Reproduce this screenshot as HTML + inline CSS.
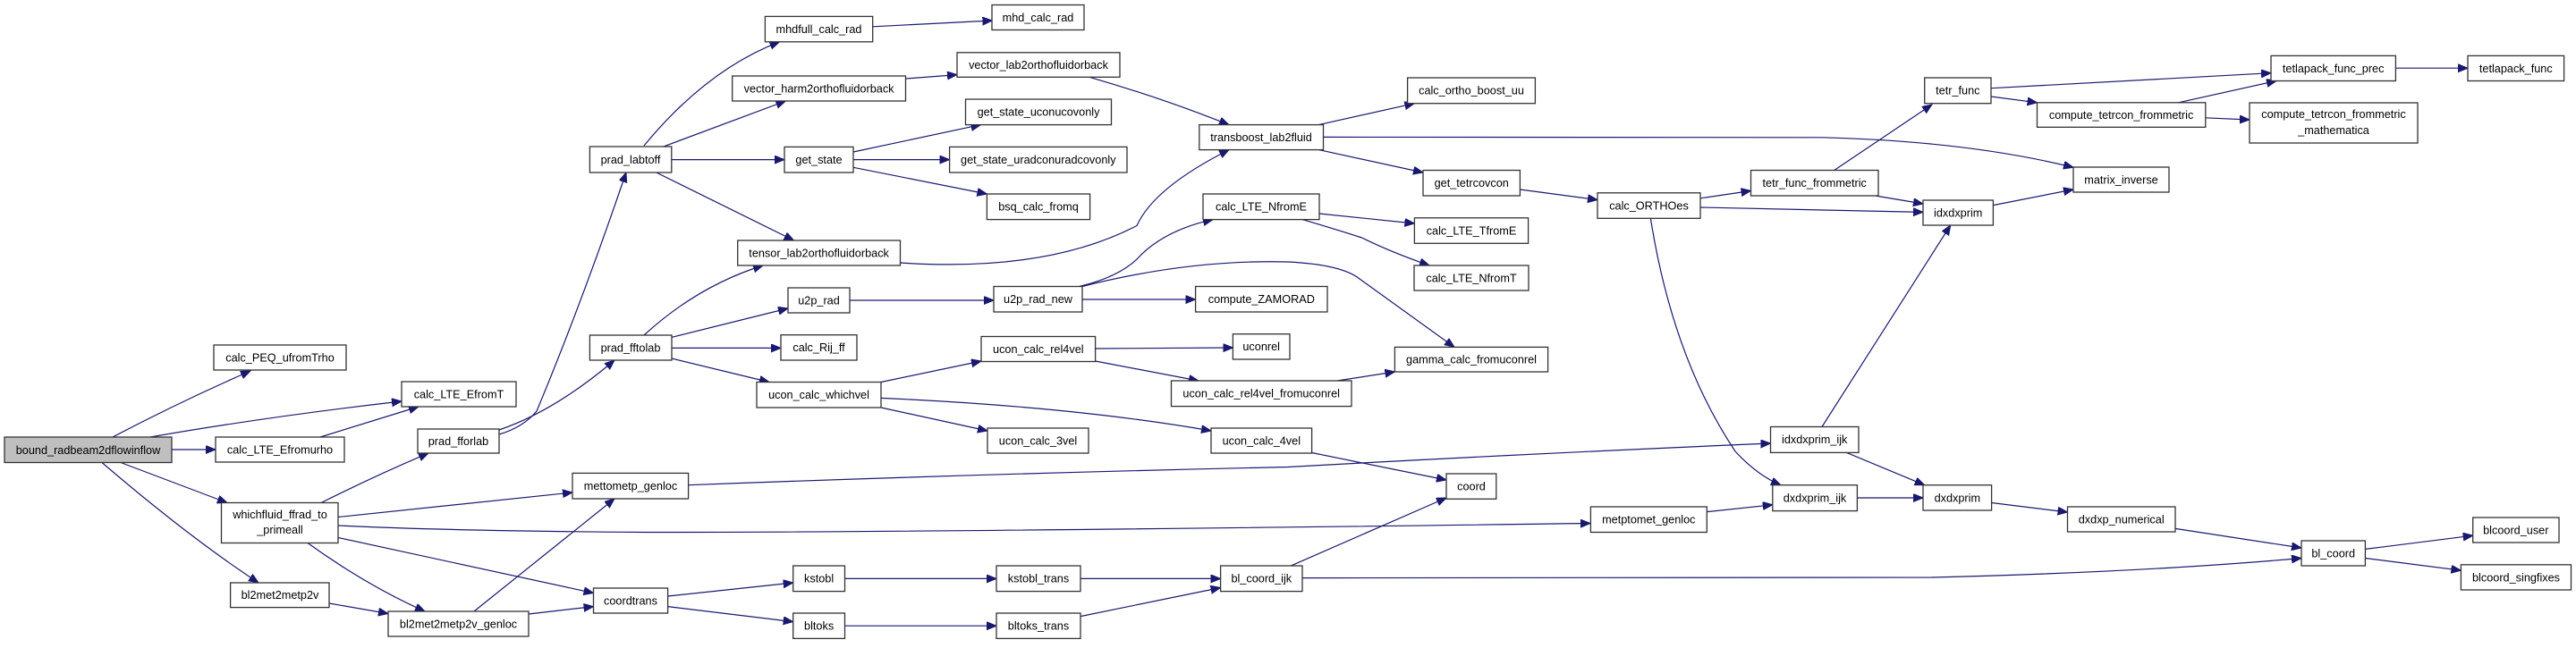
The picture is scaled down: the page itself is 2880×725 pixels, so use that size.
<!DOCTYPE html>
<html><head><meta charset="utf-8"><style>
html,body{margin:0;padding:0;background:#fff;}
svg{display:block;}
text{font-family:"Liberation Sans",Arial,sans-serif;font-size:12.7px;fill:#000;text-anchor:middle;}
rect{fill:#fff;stroke:#333;stroke-width:1.3;}
path{fill:none;stroke:#191970;stroke-width:1.2;}
</style></head><body>
<svg width="2880" height="725" viewBox="0 0 2880 725" xmlns="http://www.w3.org/2000/svg">
<defs>
<marker id="a" markerUnits="userSpaceOnUse" markerWidth="12" markerHeight="10" refX="11" refY="4.5" orient="auto">
<path d="M0,0 L11,4.5 L0,9 Z" style="fill:#191970;stroke:#191970;stroke-width:1"/>
</marker>
</defs>
<g marker-end="url(#a)">
<path d="M126,489 Q200,450 280,415"/>
<path d="M168,489 Q300,466 449,449"/>
<path d="M192,503 L241,503"/>
<path d="M135,517.5 L254,562.5"/>
<path d="M114,517.5 Q210,600 289,652"/>
<path d="M358,489 L468,455"/>
<path d="M359,562.5 Q420,532 479,507"/>
<path d="M378,578.5 L640,551"/>
<path d="M378,588 Q500,594 720,595.5 Q1000,596 1778,585.5"/>
<path d="M378,601.5 L663.5,663.5"/>
<path d="M344,607.5 Q410,655 475,684"/>
<path d="M368,675 L434,686.5"/>
<path d="M530,684 L687,558"/>
<path d="M591,687 L663.5,678.6"/>
<path d="M558,486 Q585,478 600,460 Q650,340 700,193"/>
<path d="M558,481 Q620,460 687,403"/>
<path d="M769.6,542.7 Q1100,530 1440,522.5 Q1700,508 1979.5,496"/>
<path d="M720,163 Q790,78 871.5,46.8"/>
<path d="M740.7,164.4 L878.4,113"/>
<path d="M751,178.6 L877,178.6"/>
<path d="M733.8,193 L887.6,269"/>
<path d="M975.7,29.8 L1109.4,23"/>
<path d="M1012.5,88 L1070,83.6"/>
<path d="M1218,86.3 Q1300,110 1374,139.6"/>
<path d="M954,170 L1096.5,139.6"/>
<path d="M954,178.6 L1061.6,178.6"/>
<path d="M954,187.3 L1103.4,217"/>
<path d="M1006.5,294 Q1170,305 1271,252.5 Q1290,210 1374,167.6"/>
<path d="M720,375 Q780,320 853,297"/>
<path d="M750.8,377.4 L881,345"/>
<path d="M751,389.4 L873,389.4"/>
<path d="M750.8,401 L860,427.5"/>
<path d="M950,336 L1111,336"/>
<path d="M1206.7,320.5 Q1250,310 1271,290 Q1300,258 1356,245.6"/>
<path d="M1210,320.5 Q1330,290 1440,293 Q1500,296 1520,312 L1626,388.4"/>
<path d="M1210,335 L1336.6,335"/>
<path d="M985,427.5 L1097,404"/>
<path d="M985,456 L1104,482"/>
<path d="M985,445.4 Q1200,455 1354,482"/>
<path d="M1224.6,390 L1378.4,389"/>
<path d="M1224.6,404 L1340,426"/>
<path d="M1495,426 L1559.4,416"/>
<path d="M1466.6,506.5 L1617,537"/>
<path d="M1475,239 L1581.4,250"/>
<path d="M1456,245.6 Q1495,257 1522.6,266 Q1555,282 1598,297"/>
<path d="M746.6,667 L886.7,652"/>
<path d="M746.6,678.6 L886.7,695.6"/>
<path d="M944.5,647.4 L1114,647.4"/>
<path d="M944.5,700.2 L1114,700.2"/>
<path d="M1208,647.4 L1364.6,647.4"/>
<path d="M1208,689.6 L1364.6,657.5"/>
<path d="M1442,633.6 L1617,557"/>
<path d="M1456,646.6 Q1800,647 2160,646 Q2400,640 2573,624.5"/>
<path d="M1474.4,139.6 L1581.4,115.7"/>
<path d="M1479.5,153.4 L2037,153.8 Q2200,158 2318,187.3"/>
<path d="M1474.4,167.6 L1591,193"/>
<path d="M1699.4,212 L1786,223.6"/>
<path d="M1901,221.8 L1957.5,213.5"/>
<path d="M1901,232 L2150,237.4"/>
<path d="M1845.4,244.3 Q1870,400 1940,505 Q1965,532 1991,542.7"/>
<path d="M2050.7,190.5 L2160,117"/>
<path d="M2096.6,219 L2150,228"/>
<path d="M2037,477.5 L2180.7,252"/>
<path d="M2064.5,506.4 L2151.7,542.7"/>
<path d="M2076.4,557 L2150,557"/>
<path d="M1908.3,572.6 L1981.8,564.8"/>
<path d="M2226,98.7 L2539,81.7"/>
<path d="M2226,108 L2277.5,114.8"/>
<path d="M2435.5,114.8 L2545,90.5"/>
<path d="M2465.8,131.8 L2515,134"/>
<path d="M2678.4,76.2 L2759,76.2"/>
<path d="M2228.4,229.6 L2318,212"/>
<path d="M2226.6,562.5 L2311.5,573"/>
<path d="M2432,591.4 L2573,613"/>
<path d="M2644.4,614.4 L2764.7,599.2"/>
<path d="M2644.4,624.5 L2751.4,638.2"/>
</g>
<g>
<rect x="5" y="489" width="187" height="28.5" style="fill:#bfbfbf"/><text x="98.5" y="508">bound_radbeam2dflowinflow</text>
<rect x="239" y="386" width="148" height="28"/><text x="313" y="404.5">calc_PEQ_ufromTrho</text>
<rect x="449" y="427" width="128" height="28"/><text x="513" y="445.5">calc_LTE_EfromT</text>
<rect x="241" y="489" width="144" height="28"/><text x="313" y="507.5">calc_LTE_Efromurho</text>
<rect x="247.5" y="562.5" width="130.5" height="45"/><text x="313" y="580">whichfluid_ffrad_to</text><text x="313" y="597">_primeall</text>
<rect x="257.6" y="652" width="110.4" height="27.6"/><text x="313" y="670">bl2met2metp2v</text>
<rect x="434" y="684" width="157" height="28"/><text x="512.5" y="702.5">bl2met2metp2v_genloc</text>
<rect x="467" y="480" width="91" height="27"/><text x="512.5" y="498">prad_fforlab</text>
<rect x="659.4" y="164" width="91.4" height="29"/><text x="705" y="183">prad_labtoff</text>
<rect x="659.4" y="375" width="91.6" height="28"/><text x="705" y="393.5">prad_fftolab</text>
<rect x="640" y="529.4" width="129.6" height="28.6"/><text x="705" y="548">mettometp_genloc</text>
<rect x="663.5" y="658" width="83.1" height="28"/><text x="705" y="676.5">coordtrans</text>
<rect x="855.4" y="18.4" width="120.3" height="28.4"/><text x="915.5" y="37">mhdfull_calc_rad</text>
<rect x="1109" y="5.5" width="103" height="28"/><text x="1160.5" y="24">mhd_calc_rad</text>
<rect x="818.7" y="85" width="193.8" height="28"/><text x="915.6" y="103.5">vector_harm2orthofluidorback</text>
<rect x="1070" y="58.8" width="182" height="27.5"/><text x="1161" y="77">vector_lab2orthofluidorback</text>
<rect x="877" y="164.4" width="77" height="28.6"/><text x="915.5" y="183">get_state</text>
<rect x="1079.5" y="111" width="163" height="28.6"/><text x="1161" y="129.5">get_state_uconucovonly</text>
<rect x="1061.6" y="164.4" width="198.4" height="28.6"/><text x="1160.8" y="183">get_state_uradconuradcovonly</text>
<rect x="1103.4" y="217" width="115.2" height="28.6"/><text x="1161" y="235.5">bsq_calc_fromq</text>
<rect x="824.7" y="269" width="181.8" height="28"/><text x="915.6" y="287.5">tensor_lab2orthofluidorback</text>
<rect x="881" y="322" width="69" height="28"/><text x="915.5" y="340.5">u2p_rad</text>
<rect x="1111" y="320.5" width="99" height="28.5"/><text x="1160.5" y="339">u2p_rad_new</text>
<rect x="873" y="374.7" width="85" height="28.3"/><text x="915.5" y="393">calc_Rij_ff</text>
<rect x="846" y="427.5" width="139" height="28.5"/><text x="915.5" y="446">ucon_calc_whichvel</text>
<rect x="1097" y="376.5" width="127.6" height="28"/><text x="1160.8" y="395">ucon_calc_rel4vel</text>
<rect x="1104" y="479" width="113" height="28"/><text x="1160.5" y="497.5">ucon_calc_3vel</text>
<rect x="886.7" y="633" width="57.8" height="28.6"/><text x="915.6" y="651.5">kstobl</text>
<rect x="886.7" y="686" width="57.8" height="28.4"/><text x="915.6" y="704.5">bltoks</text>
<rect x="1114" y="633" width="94" height="28.6"/><text x="1161" y="651.5">kstobl_trans</text>
<rect x="1114" y="686" width="94" height="28.4"/><text x="1161" y="704.5">bltoks_trans</text>
<rect x="1340.8" y="139.6" width="138.7" height="28"/><text x="1410" y="158">transboost_lab2fluid</text>
<rect x="1345" y="217" width="130" height="28.6"/><text x="1410" y="235.5">calc_LTE_NfromE</text>
<rect x="1336.6" y="320.5" width="147.4" height="28.5"/><text x="1410.3" y="339">compute_ZAMORAD</text>
<rect x="1378.4" y="373.7" width="63.6" height="28.3"/><text x="1410.2" y="392">uconrel</text>
<rect x="1309.5" y="426" width="201.5" height="28.6"/><text x="1410.2" y="444.5">ucon_calc_rel4vel_fromuconrel</text>
<rect x="1354" y="479" width="112.6" height="28"/><text x="1410.3" y="497.5">ucon_calc_4vel</text>
<rect x="1364.6" y="633" width="91.4" height="28.6"/><text x="1410.3" y="651.5">bl_coord_ijk</text>
<rect x="1573.6" y="87" width="142.8" height="28.7"/><text x="1645" y="105.5">calc_ortho_boost_uu</text>
<rect x="1591" y="190.5" width="108.4" height="28.5"/><text x="1645.2" y="209">get_tetrcovcon</text>
<rect x="1581.4" y="243.8" width="127.2" height="28.5"/><text x="1645" y="262.3">calc_LTE_TfromE</text>
<rect x="1581" y="297" width="128" height="28"/><text x="1645" y="315.5">calc_LTE_NfromT</text>
<rect x="1559.4" y="388.4" width="171.2" height="27.6"/><text x="1645" y="406.5">gamma_calc_fromuconrel</text>
<rect x="1617" y="530" width="55.8" height="28.3"/><text x="1645" y="548.5">coord</text>
<rect x="1778.4" y="567" width="129.9" height="28.5"/><text x="1843.3" y="585.5">metptomet_genloc</text>
<rect x="1786" y="215.8" width="115" height="28.5"/><text x="1843.5" y="234.3">calc_ORTHOes</text>
<rect x="1957.5" y="190.5" width="142.5" height="28.5"/><text x="2028.7" y="209">tetr_func_frommetric</text>
<rect x="1979.5" y="477.5" width="98.5" height="28.9"/><text x="2028.7" y="496">idxdxprim_ijk</text>
<rect x="1981.8" y="542.7" width="94.6" height="28.9"/><text x="2029" y="561.3">dxdxprim_ijk</text>
<rect x="2151.7" y="87" width="74.3" height="28.7"/><text x="2188.8" y="105.5">tetr_func</text>
<rect x="2150" y="224" width="78.4" height="28"/><text x="2189.2" y="242.5">idxdxprim</text>
<rect x="2150" y="542.7" width="76.6" height="28.3"/><text x="2188.3" y="561.3">dxdxprim</text>
<rect x="2539" y="62.4" width="139.4" height="28.1"/><text x="2608.7" y="80.8">tetlapack_func_prec</text>
<rect x="2759" y="62.4" width="107.6" height="28.1"/><text x="2812.8" y="80.8">tetlapack_func</text>
<rect x="2277.5" y="114.8" width="188.3" height="27.5"/><text x="2371.6" y="133">compute_tetrcon_frommetric</text>
<rect x="2515" y="115" width="188" height="45"/><text x="2609" y="132">compute_tetrcon_frommetric</text><text x="2609" y="150">_mathematica</text>
<rect x="2318" y="187" width="107" height="28"/><text x="2371.5" y="205.5">matrix_inverse</text>
<rect x="2311.5" y="567" width="120.5" height="28"/><text x="2371.7" y="585.5">dxdxp_numerical</text>
<rect x="2573" y="605" width="71.4" height="28"/><text x="2608.7" y="623.5">bl_coord</text>
<rect x="2764.7" y="579" width="96.3" height="28"/><text x="2812.8" y="597.5">blcoord_user</text>
<rect x="2751.4" y="631.8" width="123.1" height="28.2"/><text x="2813" y="650.3">blcoord_singfixes</text>
</g>
</svg>
</body></html>
